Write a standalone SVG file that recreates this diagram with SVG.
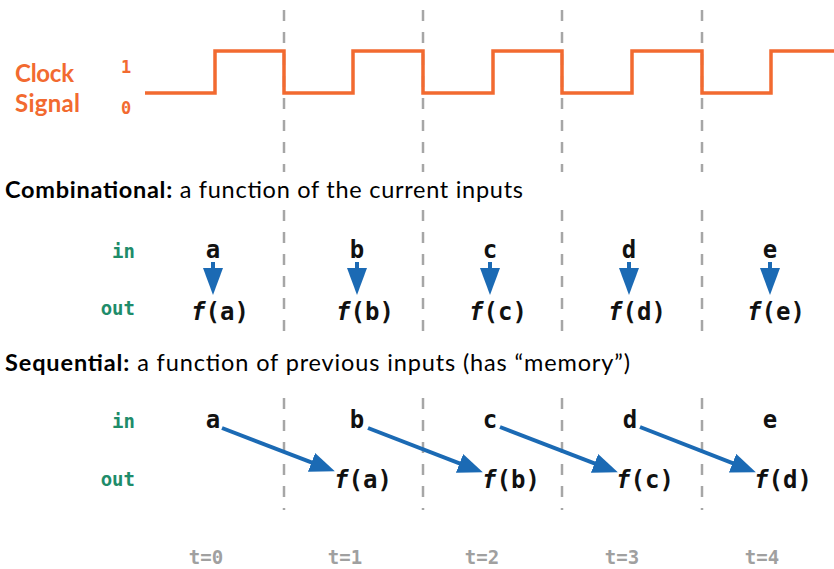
<svg xmlns="http://www.w3.org/2000/svg" width="834" height="569" viewBox="0 0 834 569">
<style>
.orange{fill:#F26A30;font-family:Lato,"Open Sans","Liberation Sans",sans-serif;font-weight:bold}
.omono{fill:#F26A30;font-family:"DejaVu Sans Mono","Liberation Mono",monospace;font-weight:bold;font-size:17px}
.title{fill:#000;font-family:Lato,"Open Sans","Liberation Sans",sans-serif;font-size:23.5px}
.title .b{font-weight:bold}
.lbl{fill:#1E8C6A;font-family:"DejaVu Sans Mono","Liberation Mono",monospace;font-weight:bold;font-size:19px;text-anchor:end}
.v{fill:#111;font-family:"DejaVu Sans Mono","Liberation Mono",monospace;font-weight:bold;font-size:24px;text-anchor:middle}
.f{font-style:italic}
.t{fill:#A0A0A0;font-family:"DejaVu Sans Mono","Liberation Mono",monospace;font-weight:bold;font-size:19px;text-anchor:middle}
.dash{stroke:#A6A6A6;stroke-width:2.5;stroke-dasharray:11 11;fill:none}
.clk{stroke:#F26A30;stroke-width:3.5;fill:none;stroke-linejoin:miter}
.arr{stroke:#1B6AB4;stroke-width:4;fill:none}
</style>
<defs>
<marker id="hv" markerUnits="userSpaceOnUse" markerWidth="27" markerHeight="20" refX="1" refY="10" orient="auto">
<path d="M0,0 L27,10 L0,20 z" fill="#1B6AB4"/>
</marker>
<marker id="hs" markerUnits="userSpaceOnUse" markerWidth="25" markerHeight="20" refX="11" refY="10" orient="auto">
<path d="M0,0 L25,10 L0,20 z" fill="#1B6AB4"/>
</marker>
</defs>
<rect width="834" height="569" fill="#fff"/>
<g id="grid">
<path class="dash" d="M284,10V172M284,210V340M284,398V510M423,10V172M423,210V340M423,398V510M562,10V172M562,210V340M562,398V510M702,10V172M702,210V340M702,398V510"/>
</g>
<g id="clock-label">
<text class="orange" x="15" y="82" font-size="24" textLength="59">Clock</text>
<text class="orange" x="15" y="112" font-size="24" textLength="65">Signal</text>
<text class="omono" x="126" y="73" text-anchor="middle">1</text>
<text class="omono" x="126" y="114" text-anchor="middle">0</text>
</g>
<g id="clock-signal">
<path class="clk" d="M145,93H215V51H284V93H353V51H423V93H493V51H562V93H632V51H702V93H771V51H834"/>
</g>
<g id="title-comb">
<text class="title" x="5" y="198" textLength="518"><tspan class="b">Combinational:</tspan> a function of the current inputs</text>
</g>
<g id="title-seq">
<text class="title" x="5" y="371" textLength="625"><tspan class="b">Sequential:</tspan> a function of previous inputs (has “memory”)</text>
</g>
<g id="comb-labels">
<text class="lbl" x="135" y="258">in</text>
<text class="lbl" x="135" y="315">out</text>
</g>
<g id="comb-in">
<text class="v" x="213" y="258">a</text>
<text class="v" x="357" y="258">b</text>
<text class="v" x="490" y="258">c</text>
<text class="v" x="629" y="258">d</text>
<text class="v" x="770" y="258">e</text>
</g>
<g id="comb-out">
<text class="v" x="220" y="320"><tspan class="f">f</tspan>(a)</text>
<text class="v" x="365" y="320"><tspan class="f">f</tspan>(b)</text>
<text class="v" x="498" y="320"><tspan class="f">f</tspan>(c)</text>
<text class="v" x="637" y="320"><tspan class="f">f</tspan>(d)</text>
<text class="v" x="776" y="320"><tspan class="f">f</tspan>(e)</text>
</g>
<g id="seq-labels">
<text class="lbl" x="135" y="428">in</text>
<text class="lbl" x="135" y="486">out</text>
</g>
<g id="seq-in">
<text class="v" x="213" y="428">a</text>
<text class="v" x="357" y="428">b</text>
<text class="v" x="490" y="428">c</text>
<text class="v" x="630" y="428">d</text>
<text class="v" x="770" y="428">e</text>
</g>
<g id="seq-out">
<text class="v" x="363" y="488"><tspan class="f">f</tspan>(a)</text>
<text class="v" x="511" y="488"><tspan class="f">f</tspan>(b)</text>
<text class="v" x="645" y="488"><tspan class="f">f</tspan>(c)</text>
<text class="v" x="783" y="488"><tspan class="f">f</tspan>(d)</text>
</g>
<g id="time-labels">
<text class="t" x="206" y="564">t=0</text>
<text class="t" x="345" y="564">t=1</text>
<text class="t" x="482" y="564">t=2</text>
<text class="t" x="622" y="564">t=3</text>
<text class="t" x="762" y="564">t=4</text>
</g>
<g id="connectors">
<line class="arr" x1="213" y1="262" x2="213" y2="269" marker-end="url(#hv)"/>
<line class="arr" x1="357" y1="262" x2="357" y2="269" marker-end="url(#hv)"/>
<line class="arr" x1="490" y1="262" x2="490" y2="269" marker-end="url(#hv)"/>
<line class="arr" x1="629" y1="262" x2="629" y2="269" marker-end="url(#hv)"/>
<line class="arr" x1="770" y1="262" x2="770" y2="269" marker-end="url(#hv)"/>
<line class="arr" x1="222" y1="428" x2="321.8" y2="466.3" marker-end="url(#hs)"/>
<line class="arr" x1="368" y1="428" x2="469.8" y2="467.3" marker-end="url(#hs)"/>
<line class="arr" x1="500" y1="427" x2="604.8" y2="467.3" marker-end="url(#hs)"/>
<line class="arr" x1="640" y1="427" x2="742.8" y2="467.2" marker-end="url(#hs)"/>
</g>
</svg>
